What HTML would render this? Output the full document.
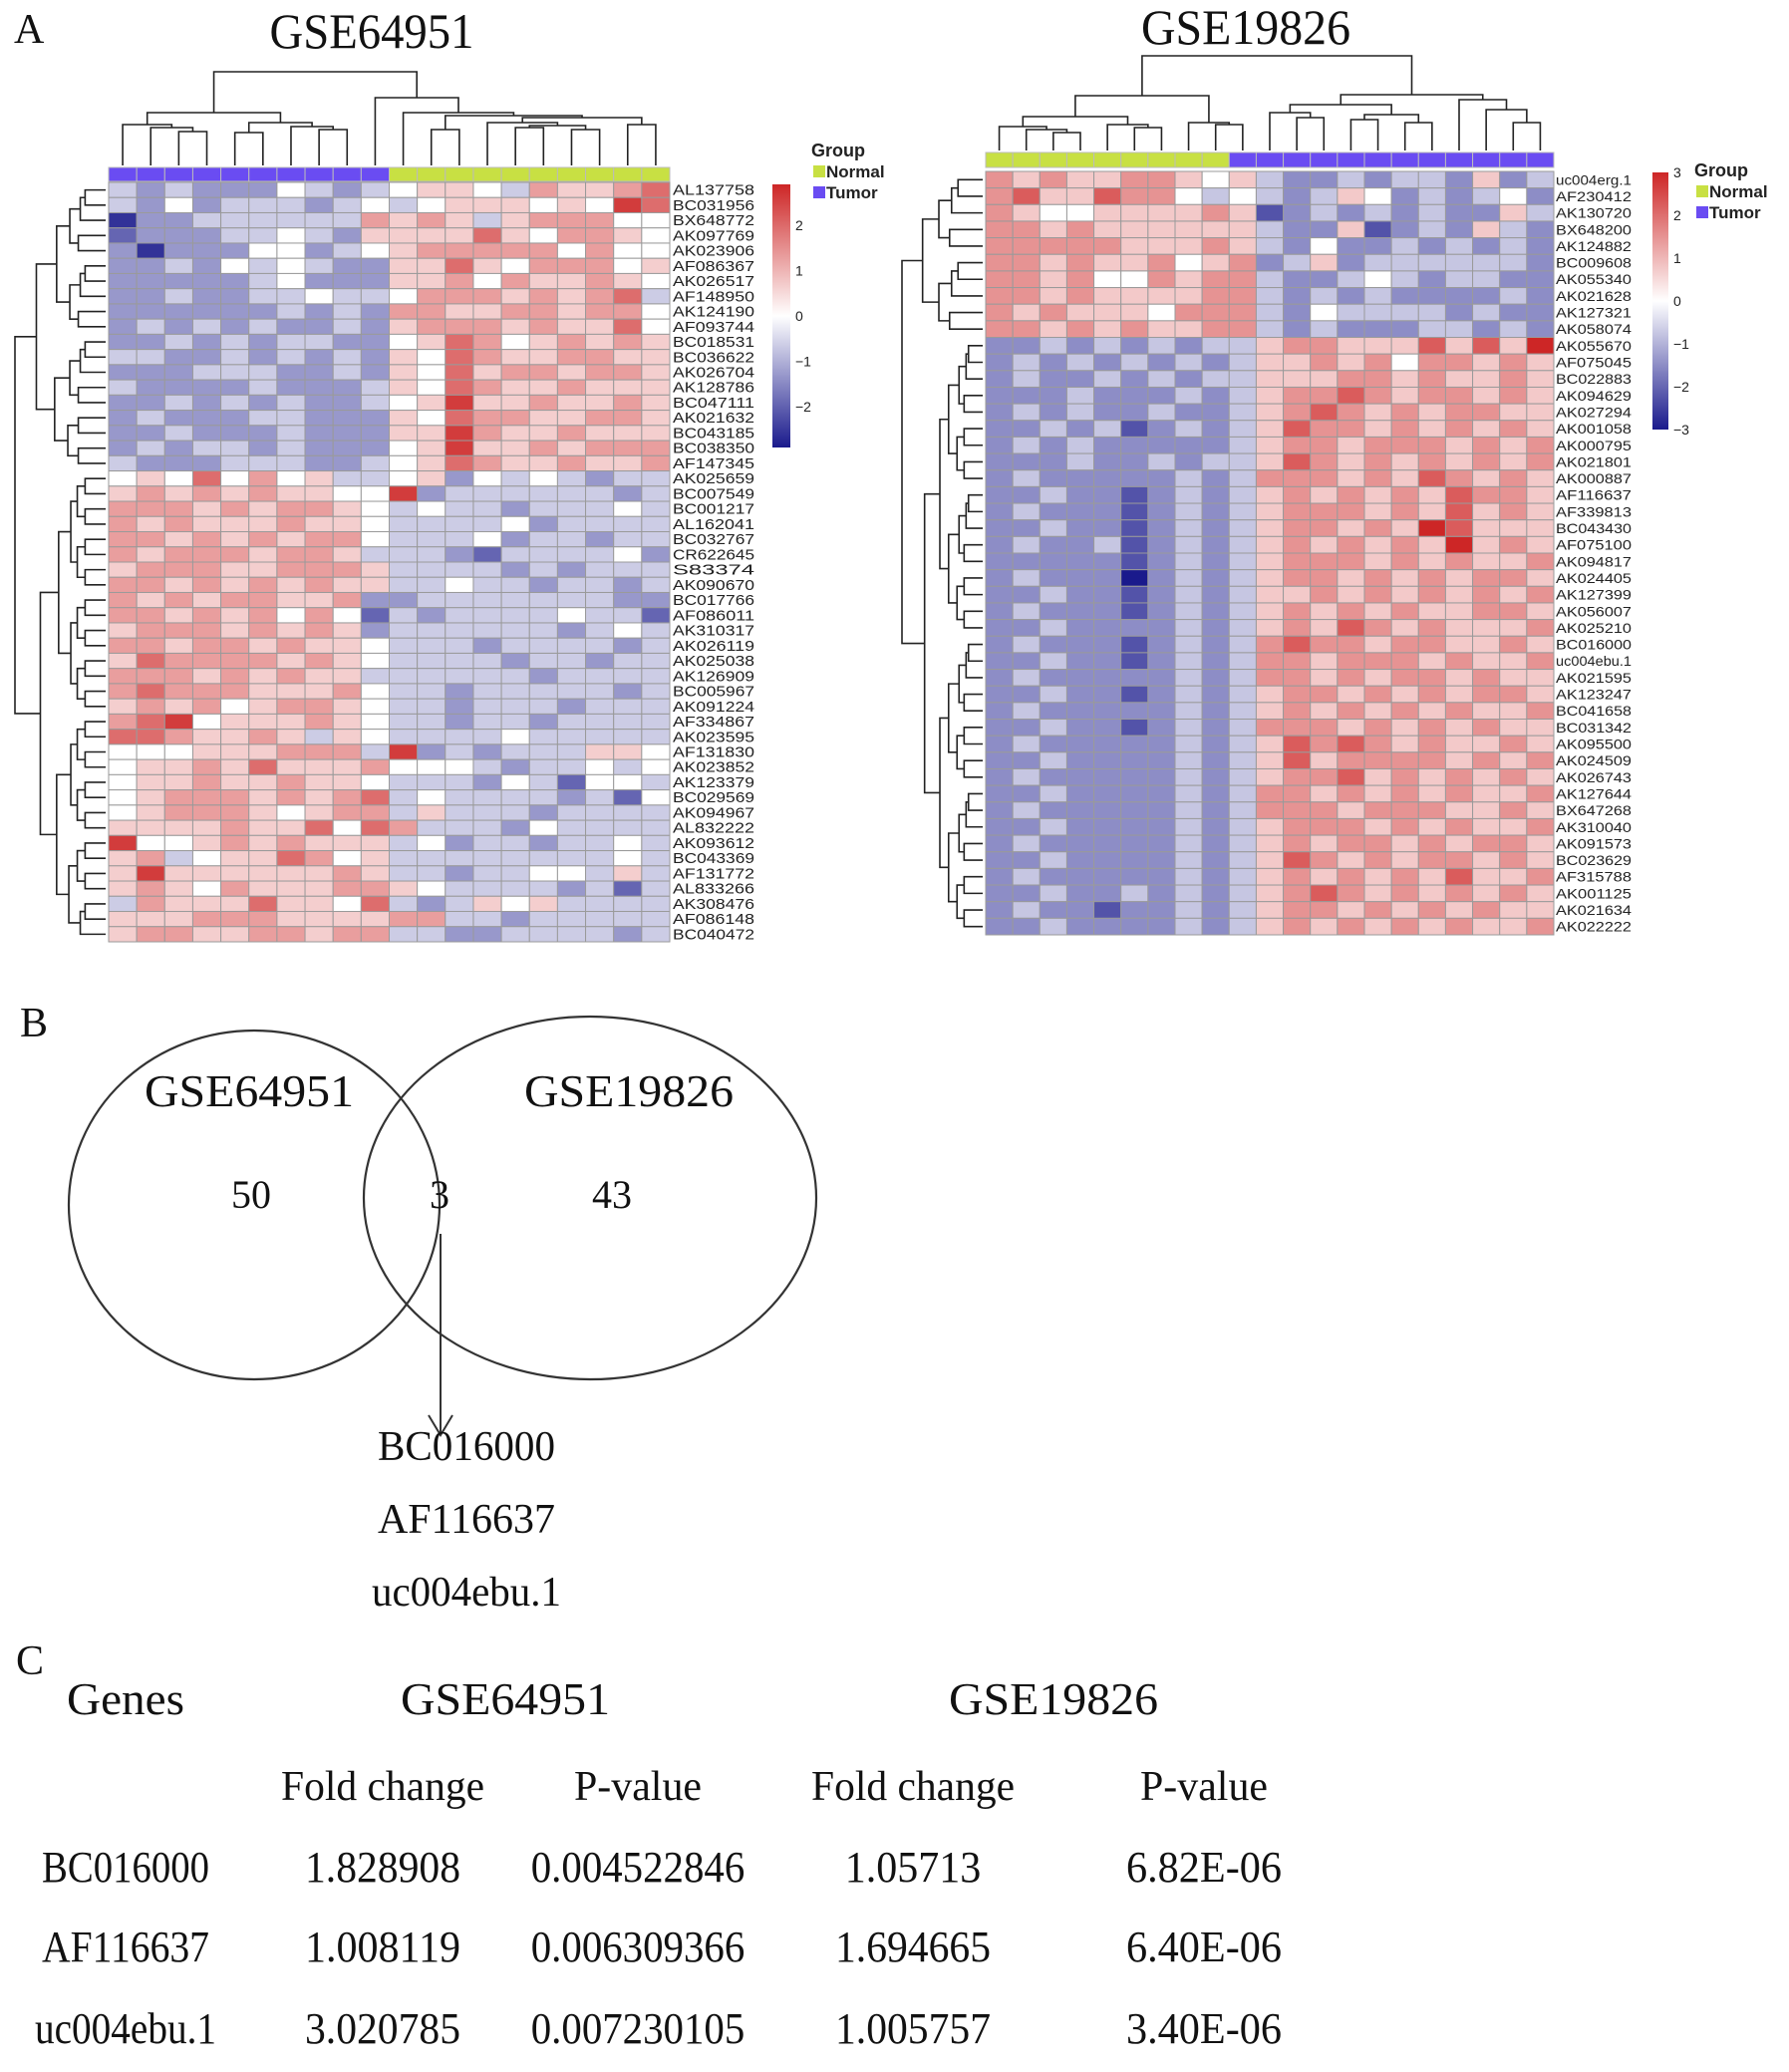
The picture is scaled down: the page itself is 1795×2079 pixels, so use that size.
<!DOCTYPE html>
<html><head><meta charset="utf-8">
<style>
html,body{margin:0;padding:0;background:#fff;}
svg{display:block;}
.serif{font-family:"Liberation Serif",serif;fill:#111;}
.sans{font-family:"Liberation Sans",sans-serif;fill:#222;}
</style></head>
<body>
<svg id="fig" width="1795" height="2079" viewBox="0 0 1795 2079" xmlns="http://www.w3.org/2000/svg">
<g id="partA">
<text class="serif" x="14" y="43" font-size="42">A</text>
<text class="serif" x="373" y="48" font-size="50" text-anchor="middle" textLength="205" lengthAdjust="spacingAndGlyphs">GSE64951</text>
<text class="serif" x="1250" y="44" font-size="50" text-anchor="middle" textLength="210" lengthAdjust="spacingAndGlyphs">GSE19826</text>
</g>
<g id="partB">
<text class="serif" x="20" y="1040" font-size="42">B</text>
<ellipse cx="255" cy="1209" rx="186" ry="175" fill="none" stroke="#333" stroke-width="2.2"/>
<ellipse cx="592" cy="1202" rx="227" ry="182" fill="none" stroke="#333" stroke-width="2.2"/>
<text class="serif" x="250" y="1110" font-size="46" text-anchor="middle" textLength="210" lengthAdjust="spacingAndGlyphs">GSE64951</text>
<text class="serif" x="631" y="1110" font-size="46" text-anchor="middle" textLength="210" lengthAdjust="spacingAndGlyphs">GSE19826</text>
<text class="serif" x="252" y="1212" font-size="40" text-anchor="middle">50</text>
<text class="serif" x="441" y="1212" font-size="40" text-anchor="middle">3</text>
<text class="serif" x="614" y="1212" font-size="40" text-anchor="middle">43</text>
<line x1="442" y1="1238" x2="442" y2="1440" stroke="#333" stroke-width="2"/>
<polyline points="430,1420 442,1440 454,1420" fill="none" stroke="#333" stroke-width="2"/>
<text class="serif" x="468" y="1465" font-size="42" text-anchor="middle" textLength="178" lengthAdjust="spacingAndGlyphs">BC016000</text>
<text class="serif" x="468" y="1538" font-size="42" text-anchor="middle" textLength="178" lengthAdjust="spacingAndGlyphs">AF116637</text>
<text class="serif" x="468" y="1611" font-size="42" text-anchor="middle" textLength="190" lengthAdjust="spacingAndGlyphs">uc004ebu.1</text>
</g>
<g id="partC">
<text class="serif" x="16" y="1680" font-size="42">C</text>
</g>
</svg>
<script>
// ---------- data ----------
const leftGenes = ["AL137758","BC031956","BX648772","AK097769","AK023906","AF086367","AK026517","AF148950","AK124190","AF093744","BC018531","BC036622","AK026704","AK128786","BC047111","AK021632","BC043185","BC038350","AF147345","AK025659","BC007549","BC001217","AL162041","BC032767","CR622645","S83374","AK090670","BC017766","AF086011","AK310317","AK026119","AK025038","AK126909","BC005967","AK091224","AF334867","AK023595","AF131830","AK023852","AK123379","BC029569","AK094967","AL832222","AK093612","BC043369","AF131772","AL833266","AK308476","AF086148","BC040472"];
const leftGroups = "TTTTTTTTTTNNNNNNNNNN";
// digit levels 0..8, value = (d-4)*0.65
const leftLevels = [
"32322243234554365567","32423332343455545487","02233333365653566644","12223343255557546654",
"20222442345666664644","22324343225575466645","22222342225564655654","22322334334666565673",
"22222232326655665664","23232322325666565574","22323233224576456565","33223232325476556655",
"22233322325475665665","32222322235476556555","22323232234585565565","23222332225476655665",
"22322232225586556555","23233232224585565666","32223332234576556556","45474645334524343233",
"56565655448233333323","66656566543433233343","65655565543333423333","66565656643334233233",
"65666566533321333342","56665566653333232333","66565656553343323323","65656655622333333322",
"66565646413233334331","56665656523333332343","66566565543332333323","57666656543333233233",
"66656565533333323333","67666555643323333323","56564566543323332333","67845556543323323333",
"77655653543333433333","44455566638232333554","45565755564443233434","45565565543332431443",
"45666565673433332314","45666545663533323333","55556557476333243333","84456565553423323343",
"56345576453333333343","58555555653323344353","56546555665433332313","36555755473235453333",
"55566655556633233333","56655665663322333323"];
const rightGenes = ["uc004erg.1","AF230412","AK130720","BX648200","AK124882","BC009608","AK055340","AK021628","AK127321","AK058074","AK055670","AF075045","BC022883","AK094629","AK027294","AK001058","AK000795","AK021801","AK000887","AF116637","AF339813","BC043430","AF075100","AK094817","AK024405","AK127399","AK056007","AK025210","BC016000","uc004ebu.1","AK021595","AK123247","BC041658","BC031342","AK095500","AK024509","AK026743","AK127644","BX647268","AK310040","AK091573","BC023629","AF315788","AK001125","AK021634","AK022222"];
const rightGroups = "NNNNNNNNNTTTTTTTTTTTT";
// value = (d-4)*0.75
const rightLevels = [
"656556654532232332523","675576643432354232342","654455556512323232253","665655555532251232532",
"666665556532422323232","665655645623523333332","665644656632234323322","665655556632323222232",
"656555466632433332322","665656556632322233232","223232323356655575758","232323232355656466565",
"232232323355566565565","222322232356676566565","232322322356765656655","223231232357665656565",
"232322222356656665656","222322323357656565656","232222232366656576565","223221232356565657665",
"232221232356665657565","223221232356656587555","232231232356565658565","222221232356665656556",
"232220232356656565665","223221232355656565656","232221232356565655665","223222232356576565556",
"232221232367665665565","223221232366566656556","232222232366565665655","223221232356656565665",
"232222232356565656556","223221232366656565655","232222232357676565565","223222232357566665656",
"232222232356675656565","223222232366565656556","232222232366656665565","223222232356665656556",
"232222232356566565665","223222232357656566565","232222232356565657556","223223232356765656565",
"232212232356656565655","223222232356565656556"];
const leftKeyTicks = [2,1,0,-1,-2];
const rightKeyTicks = [3,2,1,0,-1,-2,-3];
// column dendrograms: [height(px y), left, right], leaves = column index
const leftColTree = [72,[113,[125,0,[128,1,[132,2,3]]],[123,[133,4,5],[127,6,[130,7,8]]]],[98,9,[113,10,[116,[130,11,12],[118,[123,13,[126,[128,14,15],[130,16,17]]],[125,18,19]]]]]];
const rightColTree = [56,[96,[117,[127,0,[130,1,[133,2,3]]],[125,4,[128,5,6]]],[123,7,[125,8,9]]],[95,[105,[113,10,[118,11,12]],[115,[120,13,14],[123,15,16]]],[100,17,[110,18,[123,19,20]]]]];
const tableHeader = ["Genes","GSE64951","GSE19826"];
const tableSub = ["Fold change","P-value","Fold change","P-value"];
const tableGenes = ["BC016000","AF116637","uc004ebu.1"];
const fc1 = ["1.828908","1.008119","3.020785"];
const pv1 = ["0.004522846","0.006309366","0.007230105"];
const fc2 = ["1.05713","1.694665","1.005757"];
const pv2 = ["6.82E-06","6.40E-06","3.40E-06"];

// ---------- drawing ----------
const NS="http://www.w3.org/2000/svg";
const svg=document.getElementById('fig');
function mk(tag,attrs,parent){const e=document.createElementNS(NS,tag);for(const k in attrs)e.setAttribute(k,attrs[k]);(parent||svg).appendChild(e);return e;}
function lerp(a,b,t){return Math.round(a+(b-a)*t);}
function color(v,max){
  let t=Math.max(-1,Math.min(1,v/max));
  if(t>=0){return `rgb(${lerp(255,205,t)},${lerp(255,38,t)},${lerp(255,38,t)})`;}
  t=-t;return `rgb(${lerp(255,26,t)},${lerp(255,26,t)},${lerp(255,140,t)})`;
}
function heatmap(cfg){
  const g=mk('g',{});
  
  
  const nC=cfg.levels[0].length,nR=cfg.levels.length;
  const cw=cfg.w/nC,rh=cfg.h/nR;
  const colX=i=>cfg.x+cw*(i+0.5), rowY=r=>cfg.y+rh*(r+0.5);
  // group bar
  for(let c=0;c<nC;c++){
    const r=mk('rect',{x:cfg.x+c*cw,y:cfg.gy,width:cw,height:cfg.gh,fill:cfg.groups[c]==='N'?'#c8e043':'#6a4cf2',stroke:'#bbb','stroke-width':1},g);
    
    
  }
  for(let r=0;r<nR;r++){
    for(let c=0;c<nC;c++){
      const v=(parseInt(cfg.levels[r][c])-4)*cfg.step;
      const el=mk('rect',{x:cfg.x+c*cw,y:cfg.y+r*rh,width:cw,height:rh,fill:color(v,cfg.max),stroke:'#9a9a9a','stroke-width':1},g);
      
      
    }
    const t=mk('text',{x:cfg.lx,y:rowY(r)+5,'font-size':cfg.fs,class:'sans',textLength:cfg.tl,lengthAdjust:'spacingAndGlyphs'},g);
    t.textContent=cfg.genes[r];
    
    
  }
  // column dendrogram
  function colTree(n){
    if(typeof n==='number')return {x:colX(n),y:cfg.leafY};
    const a=colTree(n[1]),b=colTree(n[2]),h=n[0];
    mk('path',{d:`M${a.x},${a.y}V${h}H${b.x}V${b.y}`,fill:'none',stroke:'#222','stroke-width':1.6},g);
    return {x:(a.x+b.x)/2,y:h};
  }
  colTree(cfg.colTree);
  // row dendrogram (balanced split inside each main cluster)
  const leafX=cfg.x-3;
  function build(lo,hi,depth){
    if(lo===hi)return {x:leafX,y:rowY(lo)};
    const mid=Math.floor((lo+hi)/2);
    const a=build(lo,mid,depth+1),b=build(mid+1,hi,depth+1);
    const hx=cfg.rootX+(leafX-cfg.rootX)*(1-Math.pow(0.72,depth+1))-((lo*7+hi*3)%5);
    mk('path',{d:`M${a.x},${a.y}H${hx}V${b.y}H${b.x}`,fill:'none',stroke:'#222','stroke-width':1.6},g);
    return {x:hx,y:(a.y+b.y)/2};
  }
  const A=build(0,cfg.split-1,0),B=build(cfg.split,nR-1,0);
  mk('path',{d:`M${A.x},${A.y}H${cfg.rootX}V${B.y}H${B.x}`,fill:'none',stroke:'#222','stroke-width':1.6},g);
  // color key
  const gid='grad'+cfg.name;
  const defs=mk('defs',{},g);
  const lg=mk('linearGradient',{id:gid,x1:0,y1:0,x2:0,y2:1},defs);
  mk('stop',{offset:'0','stop-color':'#cd2626'},lg);
  mk('stop',{offset:'0.5','stop-color':'#ffffff'},lg);
  mk('stop',{offset:'1','stop-color':'#1a1a8c'},lg);
  const key=mk('rect',{x:cfg.kx,y:cfg.ky,width:cfg.kw,height:cfg.kh,fill:`url(#${gid})`},g);
  
  
  const kmid=cfg.ky+cfg.kh/2, per=cfg.kh/2/cfg.max;
  cfg.ticks.forEach(v=>{
    const t=mk('text',{x:cfg.kx+cfg.kw+5,y:kmid-v*per+5,'font-size':14,class:'sans'},g);
    t.textContent=v<0?'\u2212'+(-v):String(v);
    
    
  });
  // legend
  const lt=mk('text',{x:cfg.gx,y:cfg.gly,'font-size':18,'font-weight':'bold',class:'sans'},g);
  lt.textContent='Group';
  
  
  [['Normal','#c8e043'],['Tumor','#6a4cf2']].forEach((p,i)=>{
    const yy=cfg.gly+21+i*21;
    const sw=mk('rect',{x:cfg.gx+2,y:yy-12,width:12,height:12,fill:p[1]},g);
    
    
    const tx=mk('text',{x:cfg.gx+15,y:yy,'font-size':17,'font-weight':'bold',class:'sans'},g);
    tx.textContent=p[0];
    
    
  });
}
heatmap({name:'left-heatmap',levels:leftLevels,genes:leftGenes,groups:leftGroups,step:0.65,max:2.9,
  x:109,y:183,w:563,h:762,gy:168,gh:14,leafY:166,colTree:leftColTree,lx:675,fs:15,tl:82,
  rootX:15,split:19,kx:775,ky:185,kw:18,kh:264,ticks:leftKeyTicks,gx:814,gly:157});
heatmap({name:'right-heatmap',levels:rightLevels,genes:rightGenes,groups:rightGroups,step:0.75,max:3,
  x:989,y:172,w:570,h:766,gy:153,gh:15,leafY:151,colTree:rightColTree,lx:1561,fs:14,tl:76,
  rootX:905,split:10,kx:1658,ky:173,kw:16,kh:258,ticks:rightKeyTicks,gx:1700,gly:177});

// ---------- table ----------
const tg=mk('g',{});


function tt(txt,x,y,fs,tl,name){
  const t=mk('text',{x:x,y:y,'font-size':fs,'text-anchor':'middle',class:'serif',textLength:tl,lengthAdjust:'spacingAndGlyphs'},tg);
  t.textContent=txt;
  
  
}
const hx=[126,507,1057];
tableHeader.forEach((h,i)=>tt(h,hx[i],1720,46,i===0?118:210,'table-header'));
const cx=[384,640,916,1208];
tableSub.forEach((s,i)=>tt(s,cx[i],1806,42,i%2===0?204:128,'table-subheader'));
const ry=[1888,1968,2050];
tableGenes.forEach((gname,r)=>{
  tt(gname,126,ry[r],44,gname.length>8?182:168,'table-gene');
  tt(fc1[r],cx[0],ry[r],44,fc1[r].length*19.5,'table-fold-change-1');
  tt(pv1[r],cx[1],ry[r],44,pv1[r].length*19.5,'table-p-value-1');
  tt(fc2[r],cx[2],ry[r],44,fc2[r].length*19.5,'table-fold-change-2');
  tt(pv2[r],cx[3],ry[r],44,pv2[r].length*19.5,'table-p-value-2');
});
</script>
</body></html>
